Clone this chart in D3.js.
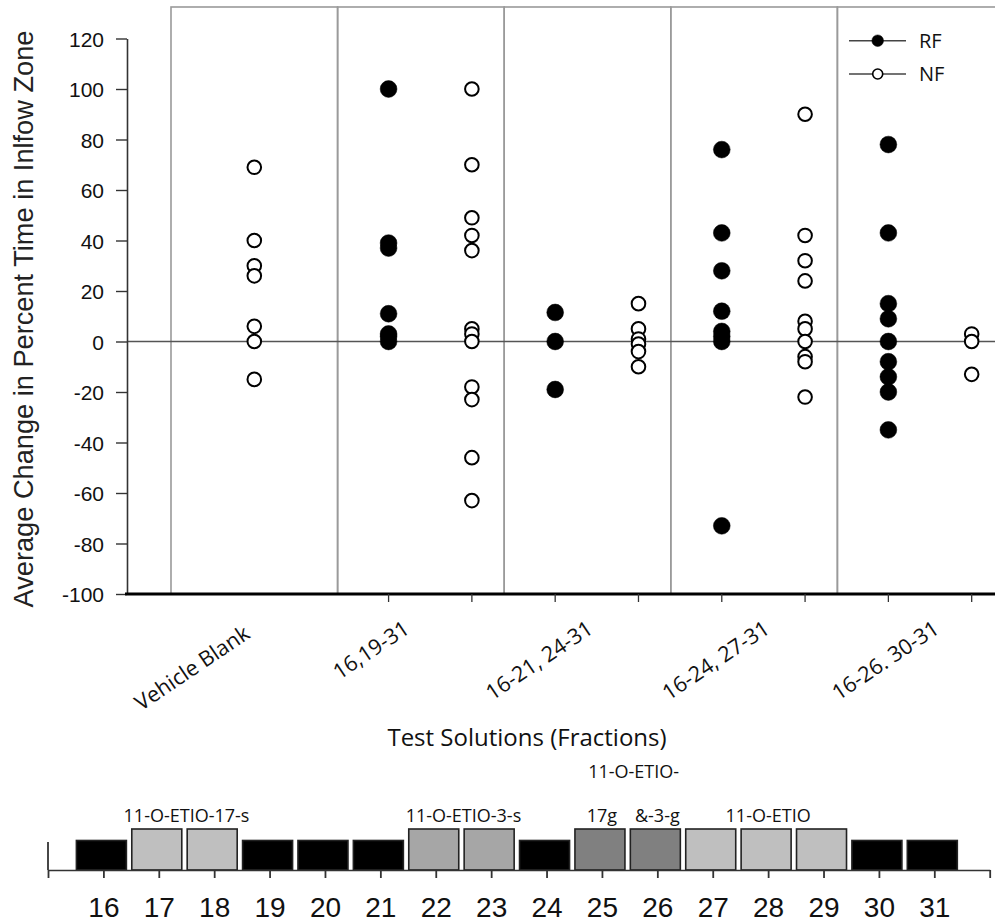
<!DOCTYPE html>
<html><head><meta charset="utf-8">
<script src="https://cdn.jsdelivr.net/npm/d3@7"></script>
<style>
html,body{margin:0;padding:0;background:#fff;}
svg{display:block;}
</style></head>
<body>
<svg id="chart" width="995" height="923"></svg>
<script>
// ---------- data ----------
const groups = ['Vehicle Blank', '16,19-31', '16-21, 24-31', '16-24, 27-31', '16-26. 30-31'];
const vehicleValues = [69, 40, 30, 26, 6, 0, -15];
const rfValues = [
  [100, 39, 37, 11, 3, 2, 0],
  [11.5, 0, -19],
  [76, 43, 28, 12, 4, 2, 0, -73],
  [78, 43, 15, 9, 0, -8, -14, -20, -35]
];
const nfValues = [
  [100, 70, 49, 42, 36, 5, 3, 0, -18, -23, -46, -63],
  [15, 5, 1, -1, -4, -10],
  [90, 42, 32, 24, 8, 5, 0, -6, -8, -22],
  [3, 0, -13]
];
const yTicks = [-100, -80, -60, -40, -20, 0, 20, 40, 60, 80, 100, 120];
const seriesNames = ['RF', 'NF'];

const fractions = [16, 17, 18, 19, 20, 21, 22, 23, 24, 25, 26, 27, 28, 29, 30, 31];
const fractionShade = ['black', 'light', 'light', 'black', 'black', 'black', 'mid', 'mid', 'black', 'dark', 'dark', 'light', 'light', 'light', 'black', 'black'];
const fractionLevel = [0.72, 1, 1, 0.72, 0.72, 0.72, 1, 1, 0.72, 1, 1, 1, 1, 1, 0.72, 0.72];
const compoundLabels = [
  { text: '11-O-ETIO-17-s', from: 17, to: 18 },
  { text: '11-O-ETIO-3-s', from: 22, to: 23 },
  { text: '11-O-ETIO', from: 27, to: 29 }
];
const compoundSplit = { head: '11-O-ETIO-', parts: [{ text: '17g', at: 25 }, { text: '&-3-g', at: 26 }] };

// ---------- layout ----------
const svg = d3.select('#chart');
const plotTop = 7, plotBottom = 594, plotLeft = 127;
const y = d3.scaleLinear().domain([-100, 120]).range([594, 38.5]);
const xb = d3.scaleBand().domain(groups).range([171, 1004]).padding(0);
const offRF = 0.306, offNF = 0.806, offVeh = 0.5;
const xPos = (g, off) => xb(g) + off * xb.bandwidth();

// panel boxes
svg.append('g').selectAll('rect').data(groups).join('rect')
  .attr('x', d => xb(d)).attr('y', plotTop)
  .attr('width', xb.bandwidth()).attr('height', plotBottom - plotTop)
  .attr('fill', 'none').attr('stroke', '#9a9a9a').attr('stroke-width', 1.6);

// zero line
svg.append('line').attr('x1', plotLeft).attr('x2', 995)
  .attr('y1', y(0)).attr('y2', y(0))
  .attr('stroke', '#555').attr('stroke-width', 1.6);

// y axis
const yAxis = svg.append('g').attr('transform', `translate(${plotLeft},0)`)
  .call(d3.axisLeft(y).tickValues(yTicks).tickSize(11).tickSizeOuter(0).tickPadding(12).tickFormat(d => String(d)));
yAxis.select('.domain').attr('stroke', '#333').attr('stroke-width', 1.6);
yAxis.selectAll('.tick line').attr('stroke', '#333').attr('stroke-width', 1.4);
yAxis.selectAll('.tick text').attr('font-family', 'Arial, "Liberation Sans", sans-serif')
  .attr('font-size', 21).attr('fill', '#111').attr('dy', '0.36em');

// bottom axis line (thick)
svg.append('line').attr('x1', 125).attr('x2', 995).attr('y1', plotBottom).attr('y2', plotBottom)
  .attr('stroke', '#000').attr('stroke-width', 3.2);

// x ticks at series positions
const tickPos = [];
groups.slice(1).forEach(g => { tickPos.push(xPos(g, offRF)); tickPos.push(xPos(g, offNF)); });
svg.append('g').selectAll('line').data(tickPos).join('line')
  .attr('x1', d => d).attr('x2', d => d).attr('y1', plotBottom).attr('y2', plotBottom + 8)
  .attr('stroke', '#333').attr('stroke-width', 1.3);

// category labels (rotated)
const labelNudge = [-3, -10, 7, 17, 20];
svg.append('g').selectAll('text').data(groups).join('text')
  .attr('transform', (d, i) => `translate(${xPos(d, offVeh) + labelNudge[i]},${i === 0 ? 637 : 632}) rotate(-34)`)
  .attr('text-anchor', 'end')
  .attr('font-family', '"Open Sans", sans-serif').attr('font-size', 21.5).attr('fill', '#111')
  .text(d => d);

// axis titles
svg.append('text')
  .attr('transform', `translate(32.5,${(28 + 610) / 2}) rotate(-90)`)
  .attr('text-anchor', 'middle')
  .attr('font-family', 'Arial, "Liberation Sans", sans-serif').attr('font-size', 27.2).attr('fill', '#222')
  .text('Average Change in Percent Time in Inlfow Zone');
svg.append('text').attr('x', 527).attr('y', 746).attr('text-anchor', 'middle')
  .attr('font-family', '"Open Sans", sans-serif').attr('font-size', 24).attr('fill', '#111')
  .text('Test Solutions (Fractions)');

// points
const pts = [];
vehicleValues.forEach(v => pts.push({ x: xPos(groups[0], offVeh), v, s: 'NF' }));
rfValues.forEach((arr, i) => arr.forEach(v => pts.push({ x: xPos(groups[i + 1], offRF), v, s: 'RF' })));
nfValues.forEach((arr, i) => arr.forEach(v => pts.push({ x: xPos(groups[i + 1], offNF), v, s: 'NF' })));
svg.append('g').selectAll('circle').data(pts).join('circle')
  .attr('cx', d => d.x).attr('cy', d => y(d.v))
  .attr('r', d => d.s === 'RF' ? 8.4 : 6.8)
  .attr('fill', d => d.s === 'RF' ? '#000' : '#fff')
  .attr('stroke', '#000').attr('stroke-width', d => d.s === 'RF' ? 0.5 : 2);

// legend
const lg = svg.append('g');
seriesNames.forEach((s, i) => {
  const ly = 40.7 + i * 33.3;
  lg.append('line').attr('x1', 849).attr('x2', 906).attr('y1', ly).attr('y2', ly)
    .attr('stroke', '#444').attr('stroke-width', 1.6);
  lg.append('circle').attr('cx', 877.7).attr('cy', ly).attr('r', s === 'RF' ? 5.8 : 5)
    .attr('fill', s === 'RF' ? '#000' : '#fff').attr('stroke', '#000').attr('stroke-width', s === 'RF' ? 0.5 : 1.6);
  lg.append('text').attr('x', 919).attr('y', ly + 7.3)
    .attr('font-family', '"Open Sans", sans-serif').attr('font-size', 20).attr('fill', '#111').text(s);
});

// ---------- fraction bar strip ----------
const xf = d3.scaleLinear().domain([15, 32]).range([48, 989.7]);
const yf = d3.scaleLinear().domain([0, 1]).range([870, 829]);
const shadeColor = d3.scaleOrdinal().domain(['black', 'light', 'mid', 'dark']).range(['#000000', '#bfbfbf', '#a6a6a6', '#808080']);
const barW = 50;

svg.append('g').selectAll('rect').data(fractions).join('rect')
  .attr('x', (d) => xf(d) - barW / 2 - 2)
  .attr('y', (d, i) => yf(fractionLevel[i]))
  .attr('width', barW)
  .attr('height', (d, i) => yf(0) - yf(fractionLevel[i]))
  .attr('fill', (d, i) => shadeColor(fractionShade[i]))
  .attr('stroke', '#222').attr('stroke-width', 1.6);

const fAxis = svg.append('g').attr('transform', `translate(0,${yf(0)})`)
  .call(d3.axisBottom(xf).tickValues(d3.range(15, 33)).tickSize(8).tickSizeOuter(0).tickFormat(d => (d >= 16 && d <= 31) ? d : ''));
fAxis.select('.domain').attr('stroke', '#333').attr('stroke-width', 1.6);
fAxis.selectAll('.tick line').attr('stroke', '#333').attr('stroke-width', 1.8);
fAxis.selectAll('.tick text').attr('font-family', 'Arial, "Liberation Sans", sans-serif')
  .attr('font-size', 28).attr('fill', '#111').attr('dy', 0).attr('y', 47);
// short vertical axis at left
svg.append('line').attr('x1', xf(15)).attr('x2', xf(15)).attr('y1', yf(0)).attr('y2', 842)
  .attr('stroke', '#333').attr('stroke-width', 1.8);

// compound labels
const cfont = '"Open Sans", sans-serif';
svg.append('g').selectAll('text').data(compoundLabels).join('text')
  .attr('x', d => (xf(d.from) + xf(d.to)) / 2).attr('y', 822)
  .attr('text-anchor', 'middle').attr('font-family', cfont).attr('font-size', 18).attr('fill', '#111')
  .text(d => d.text);
svg.append('text').attr('x', (xf(25) + xf(26)) / 2 + 4).attr('y', 778)
  .attr('text-anchor', 'middle').attr('font-family', cfont).attr('font-size', 18).attr('fill', '#111')
  .text(compoundSplit.head);
svg.append('g').selectAll('text').data(compoundSplit.parts).join('text')
  .attr('x', d => xf(d.at)).attr('y', 822)
  .attr('text-anchor', 'middle').attr('font-family', cfont).attr('font-size', 18).attr('fill', '#111')
  .text(d => d.text);
</script>
</body></html>
